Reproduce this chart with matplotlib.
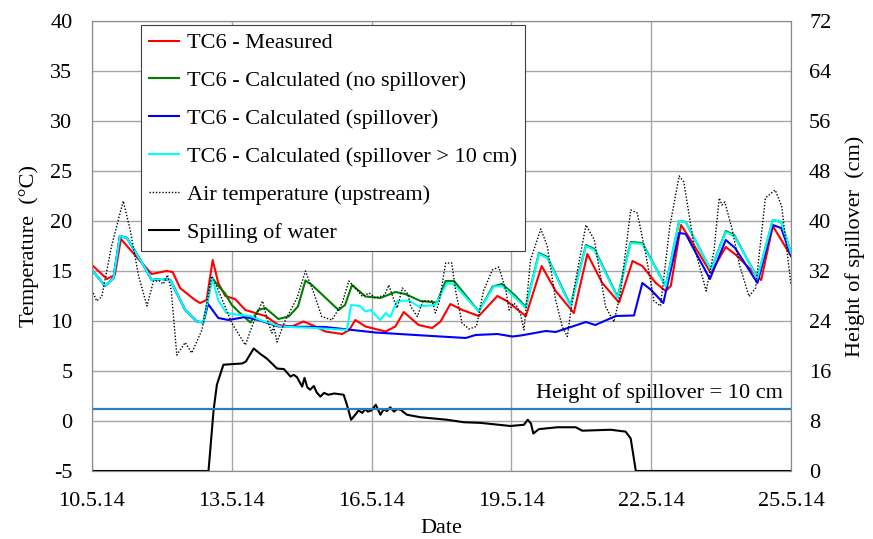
import matplotlib
matplotlib.use('Agg')
import matplotlib.pyplot as plt

plt.rcParams['font.family'] = ['Liberation Serif', 'DejaVu Serif']
plt.rcParams['axes.unicode_minus'] = False

# x values are day of May 2014
x_ticks = [10, 13, 16, 19, 22, 25]
x_tick_labels = ['10.5.14', '13.5.14', '16.5.14', '19.5.14', '22.5.14', '25.5.14']

# TC6 measured
meas_day = [10.0, 10.32, 10.49, 10.62, 10.92, 11.28, 11.6, 11.73, 11.89, 12.21, 12.32, 12.46,
            12.59, 12.71, 12.86, 13.07, 13.29, 13.72, 14.0, 14.29, 14.54, 14.72, 15.01, 15.37,
            15.52, 15.65, 15.87, 16.3, 16.51, 16.69, 17.01, 17.3, 17.48, 17.69, 17.95, 18.3,
            18.7, 18.9, 19.09, 19.31, 19.65, 19.95, 20.34, 20.63, 20.95, 21.31, 21.6, 21.81,
            22.1, 22.31, 22.42, 22.64, 22.89, 23.28, 23.6, 23.82, 24.36, 24.61, 25.0]
meas_temp = [15.6, 14.2, 14.6, 18.2, 16.6, 14.7, 15.0, 14.9, 13.3, 12.1, 11.8, 12.1,
             16.1, 13.8, 12.5, 12.2, 11.1, 10.5, 9.6, 9.45, 9.95, 9.6, 8.95, 8.7,
             9.1, 10.1, 9.45, 8.95, 9.45, 10.9, 9.6, 9.3, 9.95, 11.7, 11.1, 10.5,
             12.5, 12.0, 11.3, 10.5, 15.5, 13.0, 10.8, 16.7, 13.8, 11.85, 16.0, 15.5,
             13.8, 13.0, 13.5, 19.6, 17.8, 14.8, 17.4, 16.6, 14.1, 19.5, 16.5]

# common start of the calculated runs (before spilling)
calc0_day = [10.0, 10.28, 10.46, 10.6, 10.75, 11.14, 11.28, 11.5, 11.68, 12.0, 12.25, 12.39]
calc0_temp = [15.1, 13.5, 14.3, 18.5, 18.3, 15.3, 14.1, 14.2, 14.1, 11.1, 9.95, 9.85]

# calculated, no spillover
nospill_day = [12.58, 12.71, 12.85, 13.0, 13.14, 13.4, 13.57, 13.72, 14.0, 14.22, 14.42, 14.58,
               14.72, 15.29, 15.43, 15.58, 15.87, 16.19, 16.51, 16.72, 17.05, 17.4, 17.59,
               17.77, 18.3, 18.6, 18.8, 19.09, 19.31, 19.59, 19.77, 20.27, 20.6, 20.78, 21.28,
               21.56, 21.81, 22.31, 22.6, 22.74, 23.28, 23.6, 23.78, 24.28, 24.61, 24.79, 25.0]
nospill_temp = [14.3, 13.5, 12.8, 11.6, 10.95, 9.85, 11.1, 11.3, 10.2, 10.45, 11.45, 14.05,
                13.6, 11.1, 11.6, 13.6, 12.45, 12.3, 12.9, 12.7, 12.0, 11.85, 14.0,
                14.0, 10.95, 13.45, 13.7, 12.5, 11.4, 16.8, 16.4, 11.55, 17.6, 17.2, 12.4,
                17.9, 17.8, 13.5, 20.0, 19.9, 15.1, 19.0, 18.6, 14.3, 20.1, 19.9, 16.8]

# calculated, spillover
spill_day = [12.49, 12.71, 12.93, 13.29, 13.57, 14.0, 15.0, 16.08, 16.94, 18.02, 18.23, 18.7,
             19.02, 19.2, 19.74, 19.95, 20.6, 20.8, 21.24, 21.63, 21.81, 22.0, 22.26, 22.6,
             22.74, 23.26, 23.6, 23.8, 24.28, 24.61, 24.79, 25.0]
spill_temp = [11.7, 10.3, 10.1, 10.4, 10.1, 9.45, 9.4, 8.85, 8.6, 8.3, 8.6, 8.7,
              8.45, 8.55, 9.0, 8.9, 9.9, 9.6, 10.5, 10.55, 13.8, 13.1, 11.8, 18.8,
              18.7, 14.2, 18.1, 17.3, 13.8, 19.6, 19.3, 16.5]

# calculated, spillover > 10 cm
spill10_day = [12.58, 12.71, 12.88, 13.18, 13.4, 13.61, 14.04, 14.76, 15.47, 15.56, 15.75,
               15.87, 15.98, 16.08, 16.19, 16.3, 16.4, 16.55, 16.8, 17.01, 17.37, 17.62, 17.76,
               18.3, 18.62, 18.8, 19.09, 19.31, 19.59, 19.77, 20.27, 20.6, 20.78, 21.28, 21.56,
               21.81, 22.31, 22.6, 22.74, 23.28, 23.6, 23.78, 24.28, 24.61, 24.79, 25.0]
spill10_temp = [14.3, 12.1, 10.8, 10.6, 10.5, 10.1, 9.45, 9.3, 9.1, 11.6, 11.5,
                10.95, 11.1, 10.6, 10.1, 10.8, 10.4, 12.0, 12.05, 11.45, 11.6, 13.8, 13.7,
                10.95, 13.45, 13.5, 12.3, 11.3, 16.7, 16.3, 11.45, 17.5, 17.1, 12.3, 17.8,
                17.7, 13.45, 20.0, 19.9, 15.1, 18.9, 18.5, 14.3, 20.1, 19.9, 16.8]

# air temperature upstream
air_day = [10.0, 10.1, 10.21, 10.42, 10.67, 10.82, 11.0, 11.18, 11.32, 11.45, 11.53, 11.62,
           11.7, 11.82, 12.0, 12.14, 12.36, 12.57, 12.71, 13.0, 13.29, 13.5, 13.66, 13.75,
           13.86, 13.9, 13.97, 14.15, 14.4, 14.58, 14.76, 14.93, 15.15, 15.37, 15.51, 15.69,
           15.8, 15.95, 16.08, 16.28, 16.37, 16.48, 16.55, 16.66, 16.78, 16.84, 16.98, 17.1,
           17.3, 17.37, 17.45, 17.59, 17.72, 17.8, 17.94, 18.09, 18.25, 18.4, 18.59, 18.73,
           18.88, 18.95, 19.05, 19.12, 19.2, 19.27, 19.41, 19.63, 19.77, 19.95, 20.09, 20.2,
           20.34, 20.6, 20.78, 21.02, 21.2, 21.34, 21.56, 21.7, 21.88, 22.06, 22.2, 22.4,
           22.6, 22.7, 22.92, 23.18, 23.35, 23.46, 23.52, 23.58, 23.73, 23.9, 24.1, 24.24,
           24.45, 24.66, 24.8, 25.0]
air_temp = [13.1, 12.0, 12.45, 17.5, 22.0, 19.1, 14.5, 11.5, 14.0, 14.0, 13.7, 14.6,
            13.1, 6.6, 7.85, 6.8, 9.1, 14.5, 13.1, 9.8, 7.6, 10.3, 12.0, 10.3,
            8.8, 9.45, 7.9, 10.1, 12.3, 15.0, 12.8, 10.45, 10.1, 11.8, 14.0, 13.1,
            12.45, 12.8, 12.3, 12.6, 13.6, 12.1, 11.3, 13.3, 12.7, 11.45, 10.45, 12.0,
            12.0, 10.8, 11.9, 15.8, 15.8, 13.1, 9.8, 9.2, 9.45, 13.0, 15.1, 15.4,
            13.1, 11.1, 11.8, 11.45, 10.6, 9.1, 16.1, 19.2, 17.5, 12.1, 9.45, 8.45,
            13.1, 19.6, 18.1, 11.45, 9.9, 12.8, 21.1, 20.8, 16.8, 12.0, 11.5, 19.5,
            24.5, 23.9, 17.5, 13.0, 17.1, 22.3, 21.6, 21.9, 19.3, 15.5, 12.45, 13.3,
            22.3, 23.1, 21.5, 13.6]

# height of spilling water (cm, right axis)
flow_day = [10.0, 12.5, 12.61, 12.68, 12.82, 13.0, 13.22, 13.3, 13.47, 13.6, 13.75, 13.97,
            14.12, 14.26, 14.33, 14.4, 14.51, 14.56, 14.62, 14.68, 14.76, 14.82, 14.9, 14.98,
            15.07, 15.2, 15.4, 15.47, 15.56, 15.65, 15.72, 15.8, 15.86, 15.92, 16.0, 16.09,
            16.19, 16.26, 16.33, 16.4, 16.48, 16.55, 16.62, 16.76, 17.05, 17.62, 17.98, 18.34,
            18.98, 19.27, 19.35, 19.42, 19.47, 19.59, 19.99, 20.38, 20.52, 21.13, 21.45, 21.56,
            21.67, 25.0]
flow_cm = [0.0, 0.0, 9.8, 13.8, 17.0, 17.1, 17.2, 17.5, 19.6, 18.8, 18.0, 16.4,
           16.3, 15.1, 15.4, 15.0, 13.5, 14.9, 13.4, 13.0, 13.6, 12.6, 11.9, 12.5,
           12.2, 12.4, 12.2, 10.6, 8.2, 9.0, 9.7, 9.3, 9.9, 9.5, 9.7, 10.6,
           9.0, 9.9, 9.6, 10.2, 9.5, 9.9, 9.8, 9.0, 8.6, 8.2, 7.8, 7.7,
           7.2, 7.4, 8.2, 7.6, 6.0, 6.7, 7.0, 7.0, 6.45, 6.6, 6.3, 5.2,
           0.0, 0.0]

threshold_cm = 10

fs = 16
fig = plt.figure(figsize=(8.73, 5.39), dpi=100)
ax = fig.add_axes([92 / 873, 1 - 471 / 539, 699 / 873, 450 / 539])
ax2 = ax.twinx()

ax.set_xlim(10, 25)
ax.set_ylim(-5, 40)
ax2.set_ylim(0, 72)
ax.set_yticks(range(-5, 41, 5))
ax2.set_yticks(range(0, 73, 8))
ax.set_xticks(x_ticks)
ax.set_xticklabels(x_tick_labels)

ax.grid(True, color='#a6a6a6', linewidth=1.0)
ax.set_axisbelow(True)
for a in (ax, ax2):
    for s in a.spines.values():
        s.set_color('#8c8c8c')
    a.tick_params(length=0, labelsize=fs)
ax.tick_params(axis='y', pad=14)
ax.tick_params(axis='x', pad=15)
ax2.tick_params(axis='y', pad=13)

lw = 1.5
h_meas, = ax.plot(meas_day, meas_temp, color='#ff0000', lw=lw, label='TC6 - Measured')
h_nosp, = ax.plot(calc0_day + nospill_day, calc0_temp + nospill_temp, color='#008000', lw=lw,
                  label='TC6 - Calculated (no spillover)')
h_sp, = ax.plot(calc0_day + spill_day, calc0_temp + spill_temp, color='#0000ff', lw=lw,
                label='TC6 - Calculated (spillover)')
h_sp10, = ax.plot(calc0_day + spill10_day, calc0_temp + spill10_temp, color='#00ffff', lw=lw,
                  label='TC6 - Calculated (spillover > 10 cm)')
h_air, = ax.plot(air_day, air_temp, color='black', lw=1.0, linestyle=(0, (1, 1.3)),
                 label='Air temperature (upstream)')
h_flow, = ax2.plot(flow_day, flow_cm, color='black', lw=1.5, label='Spilling of water')

ax2.axhline(threshold_cm, color='#2e7db8', lw=1.6)
ax2.text(24.83, 11.7, 'Height of spillover = 10 cm', ha='right', va='baseline', fontsize=fs)

ax.set_xlabel('Date', fontsize=fs, labelpad=6)
ax.set_ylabel('Temperature  (°C)', fontsize=fs, labelpad=8)
ax2.set_ylabel('Height of spillover  (cm)', fontsize=fs, labelpad=10)

leg = ax2.legend(handles=[h_meas, h_nosp, h_sp, h_sp10, h_air, h_flow],
                 loc='upper left', bbox_to_anchor=(0.07, 0.991), fontsize=fs,
                 fancybox=False, framealpha=1, edgecolor='#404040', borderpad=0.35,
                 labelspacing=0.78, handlelength=1.35, handletextpad=0.36, borderaxespad=0)
leg.get_frame().set_linewidth(0.8)

fig.savefig('out.png', dpi=100)
